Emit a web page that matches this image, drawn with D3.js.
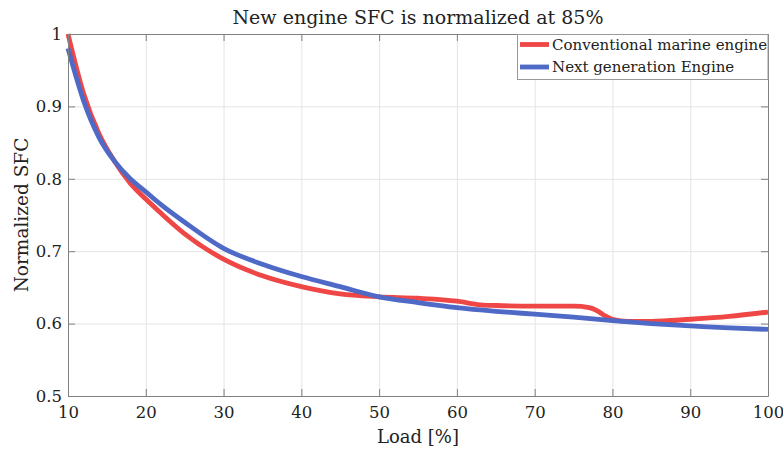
<!DOCTYPE html>
<html>
<head>
<meta charset="utf-8">
<script src="https://cdn.jsdelivr.net/npm/d3@7"></script>
<style>
  body { margin: 0; background: #fff; }
  text { font-family: "DejaVu Serif", "Liberation Serif", serif; fill: #222; }
</style>
</head>
<body>
<svg id="chart" width="783" height="449"></svg>
<script>
// Data
var loadConv = [10, 12, 14, 16, 18, 20, 22, 25, 30, 35, 40, 45, 50, 55, 60, 63, 65, 70, 75, 77, 78, 79, 80, 82, 85, 90, 95, 100];
var sfcConv  = [1.000, 0.918, 0.862, 0.824, 0.794, 0.772, 0.752, 0.724, 0.689, 0.666, 0.651, 0.641, 0.637, 0.635, 0.631, 0.626, 0.625, 0.624, 0.624, 0.622, 0.618, 0.611, 0.606, 0.603, 0.603, 0.606, 0.610, 0.616];
var loadNext = [10, 12, 14, 16, 18, 20, 22, 25, 30, 35, 40, 45, 50, 55, 60, 65, 70, 75, 80, 85, 90, 95, 100];
var sfcNext  = [0.980, 0.908, 0.857, 0.824, 0.800, 0.782, 0.764, 0.740, 0.704, 0.682, 0.665, 0.651, 0.637, 0.629, 0.622, 0.617, 0.613, 0.609, 0.604, 0.600, 0.597, 0.594, 0.592];
var xTicks = [10, 20, 30, 40, 50, 60, 70, 80, 90, 100];
var yTicks = [0.5, 0.6, 0.7, 0.8, 0.9, 1];
var seriesNames = ["Conventional marine engine", "Next generation Engine"];
var seriesColors = ["#ef4646", "#4f69c6"];

var svg = d3.select("#chart");
var mLeft = 68, mRight = 768, mTop = 34, mBottom = 396;
var w = mRight - mLeft, h = mBottom - mTop;

var x = d3.scaleLinear().domain([10, 100]).range([mLeft, mRight]);
var y = d3.scaleLinear().domain([0.5, 1]).range([mBottom, mTop]);

// Grid
svg.append("g")
  .attr("transform", "translate(0," + mBottom + ")")
  .call(d3.axisBottom(x).tickValues(xTicks).tickSize(-h).tickFormat(""))
  .call(function(g) {
    g.select(".domain").remove();
    g.selectAll("line").attr("stroke", "#e4e4e4");
  });
svg.append("g")
  .attr("transform", "translate(" + mLeft + ",0)")
  .call(d3.axisLeft(y).tickValues(yTicks).tickSize(-w).tickFormat(""))
  .call(function(g) {
    g.select(".domain").remove();
    g.selectAll("line").attr("stroke", "#e4e4e4");
  });

// Lines
var data = [
  loadConv.map(function(d, i) { return [d, sfcConv[i]]; }),
  loadNext.map(function(d, i) { return [d, sfcNext[i]]; })
];
var line = d3.line()
  .x(function(d) { return x(d[0]); })
  .y(function(d) { return y(d[1]); })
  .curve(d3.curveMonotoneX);

var plot = svg.append("g");
data.forEach(function(s, i) {
  plot.append("path")
    .attr("d", line(s))
    .attr("fill", "none")
    .attr("stroke", seriesColors[i])
    .attr("stroke-width", 4.8)
    .attr("stroke-linejoin", "round");
});

// Axes (box with inward ticks)
var axisColor = "#808080";
function styleAxis(g) {
  g.select(".domain").attr("stroke", axisColor);
  g.selectAll(".tick line").attr("stroke", axisColor);
  g.selectAll("text").attr("font-size", 16.5).attr("font-family", "DejaVu Serif").attr("fill", "#222");
}
svg.append("g")
  .attr("transform", "translate(0," + mBottom + ")")
  .call(d3.axisBottom(x).tickValues(xTicks).tickSize(-7).tickSizeOuter(0).tickPadding(10))
  .call(styleAxis);
svg.append("g")
  .attr("transform", "translate(0," + mTop + ")")
  .call(d3.axisTop(x).tickValues(xTicks).tickSize(-7).tickSizeOuter(0).tickFormat(""))
  .call(styleAxis);
svg.append("g")
  .attr("transform", "translate(" + mLeft + ",0)")
  .call(d3.axisLeft(y).tickValues(yTicks).tickSize(-7).tickSizeOuter(0).tickPadding(6).tickFormat(d3.format("")))
  .call(styleAxis);
svg.append("g")
  .attr("transform", "translate(" + mRight + ",0)")
  .call(d3.axisRight(y).tickValues(yTicks).tickSize(-7).tickSizeOuter(0).tickFormat(""))
  .call(styleAxis);

// Title and labels
svg.append("text")
  .attr("x", (mLeft + mRight) / 2)
  .attr("y", 24)
  .attr("text-anchor", "middle")
  .attr("font-size", 19)
  .text("New engine SFC is normalized at 85%");
svg.append("text")
  .attr("x", (mLeft + mRight) / 2)
  .attr("y", 443)
  .attr("text-anchor", "middle")
  .attr("font-size", 18)
  .text("Load [%]");
svg.append("text")
  .attr("transform", "translate(28," + ((mTop + mBottom) / 2) + ") rotate(-90)")
  .attr("text-anchor", "middle")
  .attr("font-size", 18.5)
  .text("Normalized SFC");

// Legend
var legend = svg.append("g");
legend.append("rect")
  .attr("x", 517.5).attr("y", mTop + 0.5)
  .attr("width", mRight - 517.5).attr("height", 45)
  .attr("fill", "#fff")
  .attr("stroke", "#999");
seriesNames.forEach(function(name, i) {
  var ly = 44.5 + i * 22.5;
  legend.append("line")
    .attr("x1", 520).attr("x2", 549)
    .attr("y1", ly).attr("y2", ly)
    .attr("stroke", seriesColors[i])
    .attr("stroke-width", 4.8);
  legend.append("text")
    .attr("x", 552).attr("y", ly)
    .attr("dy", "0.35em")
    .attr("font-size", 15)
    .text(name);
});
</script>
</body>
</html>
